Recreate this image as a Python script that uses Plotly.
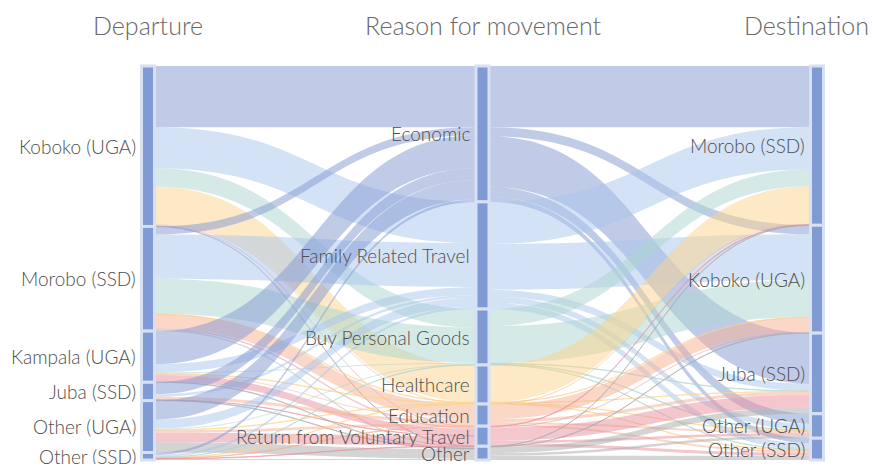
import plotly.graph_objects as go

# ---------------- data ----------------
departures = ["Koboko (UGA)", "Morobo (SSD)", "Kampala (UGA)", "Juba (SSD)", "Other (UGA)", "Other (SSD)"]
reasons = ["Economic", "Family Related Travel", "Buy Personal Goods", "Healthcare",
           "Education", "Return from Voluntary Travel", "Other"]
destinations = ["Morobo (SSD)", "Koboko (UGA)", "Juba (SSD)", "Other (UGA)", "Other (SSD)"]
column_titles = ["Departure", "Reason for movement", "Destination"]

# departure -> reason (order of reasons as above)
dep_koboko = [610, 410, 185, 370, 10, 10, 5]
dep_morobo = [80, 440, 350, 5, 140, 15, 13]
dep_kampala = [330, 80, 10, 5, 10, 70, 5]
dep_juba = [120, 25, 0, 0, 30, 3, 5]
dep_other_uga = [190, 90, 10, 5, 26, 97, 99]
dep_other_ssd = [25, 23, 3, 4, 5, 5, 10]

# reason -> destination (order of destinations as above)
rsn_economic = [610, 90, 505, 100, 50]
rsn_family = [420, 455, 70, 60, 63]
rsn_buy = [170, 370, 5, 8, 5]
rsn_health = [370, 5, 4, 5, 5]
rsn_education = [10, 140, 30, 20, 21]
rsn_return = [5, 10, 130, 25, 30]
rsn_other = [3, 5, 60, 26, 43]

# ---------------- style ----------------
reason_colors = [
    "rgba(130,152,210,0.5)",
    "rgba(170,198,236,0.5)",
    "rgba(172,214,208,0.5)",
    "rgba(252,212,140,0.5)",
    "rgba(248,176,146,0.5)",
    "rgba(232,144,156,0.5)",
    "rgba(170,170,170,0.5)",
]
NODE_COLOR = "rgb(128,154,211)"
NODE_LINE = "rgb(216,224,243)"
FONT = "Lato, 'Open Sans', sans-serif"
TEXT_COLOR = "#4e4e4e"
TITLE_COLOR = "#676767"
OFF = 8                                # page body margin offset
FIG_W, FIG_H = 880 - OFF, 464 - OFF
X_LEFT, X_RIGHT = 141.5 - OFF, 823.5 - OFF   # pixel extent of the node columns
Y_TOP, Y_BOTTOM = 66.0 - OFF, 460.0 - OFF     # pixel extent of the node stacks
TITLE_Y = 25 - OFF
TITLE_RIGHT_LIMIT = 871 - OFF
THICK = 13

dep_matrix = [dep_koboko, dep_morobo, dep_kampala, dep_juba, dep_other_uga, dep_other_ssd]
rsn_matrix = [rsn_economic, rsn_family, rsn_buy, rsn_health, rsn_education, rsn_return, rsn_other]

nD, nR, nT = len(departures), len(reasons), len(destinations)
labels = departures + reasons + destinations

src, tgt, val, col = [], [], [], []
for i, row in enumerate(dep_matrix):
    for j, v in enumerate(row):
        if v > 0:
            src.append(i); tgt.append(nD + j); val.append(v); col.append(reason_colors[j])
for j, row in enumerate(rsn_matrix):
    for k, v in enumerate(row):
        if v > 0:
            src.append(nD + j); tgt.append(nD + nR + k); val.append(v); col.append(reason_colors[j])

dep_vals = [sum(r) for r in dep_matrix]
rsn_vals = [sum(r) for r in rsn_matrix]
dest_vals = [sum(rsn_matrix[j][k] for j in range(nR)) for k in range(nT)]
total = sum(dep_vals)

W = X_RIGHT - X_LEFT
col_x = [THICK / 2 / W, 0.5, 1 - THICK / 2 / W]

node_x, node_y, ann = [], [], []
for c, (names, vals) in enumerate([(departures, dep_vals), (reasons, rsn_vals), (destinations, dest_vals)]):
    cum = 0
    for name, v in zip(names, vals):
        yc = (cum + v / 2) / total
        cum += v
        node_x.append(col_x[c])
        node_y.append(yc)
        px_x0 = X_LEFT + col_x[c] * W - THICK / 2
        px_y = Y_TOP + yc * (Y_BOTTOM - Y_TOP)
        ann.append(dict(x=(px_x0 - 4) / FIG_W, y=1 - px_y / FIG_H, xref="paper", yref="paper",
                        text=name, showarrow=False, xanchor="right", yanchor="middle",
                        font=dict(family=FONT, size=19, color=TEXT_COLOR, weight=300)))

for c, t in enumerate(column_titles):
    cx = X_LEFT + col_x[c] * W
    last = c == len(column_titles) - 1
    ann.append(dict(x=(TITLE_RIGHT_LIMIT if last else cx) / FIG_W, y=1 - TITLE_Y / FIG_H,
                    xref="paper", yref="paper", text=t,
                    showarrow=False, xanchor="right" if last else "center", yanchor="middle",
                    font=dict(family=FONT, size=25, color=TITLE_COLOR, weight=300)))

fig = go.Figure(go.Sankey(
    arrangement="fixed",
    domain=dict(x=[X_LEFT / FIG_W, X_RIGHT / FIG_W], y=[1 - Y_BOTTOM / FIG_H, 1 - Y_TOP / FIG_H]),
    node=dict(
        label=[""] * len(labels),
        customdata=labels,
        hovertemplate="%{customdata}: %{value}<extra></extra>",
        x=node_x, y=node_y,
        pad=0, thickness=THICK,
        color=NODE_COLOR,
        line=dict(color=NODE_LINE, width=3),
    ),
    link=dict(source=src, target=tgt, value=val, color=col),
))

fig.update_layout(
    width=FIG_W, height=FIG_H,
    margin=dict(l=0, r=0, t=0, b=0),
    paper_bgcolor="white", plot_bgcolor="white",
    font=dict(family=FONT, color=TEXT_COLOR),
    annotations=ann,
)
fig.write_html("out.html")
